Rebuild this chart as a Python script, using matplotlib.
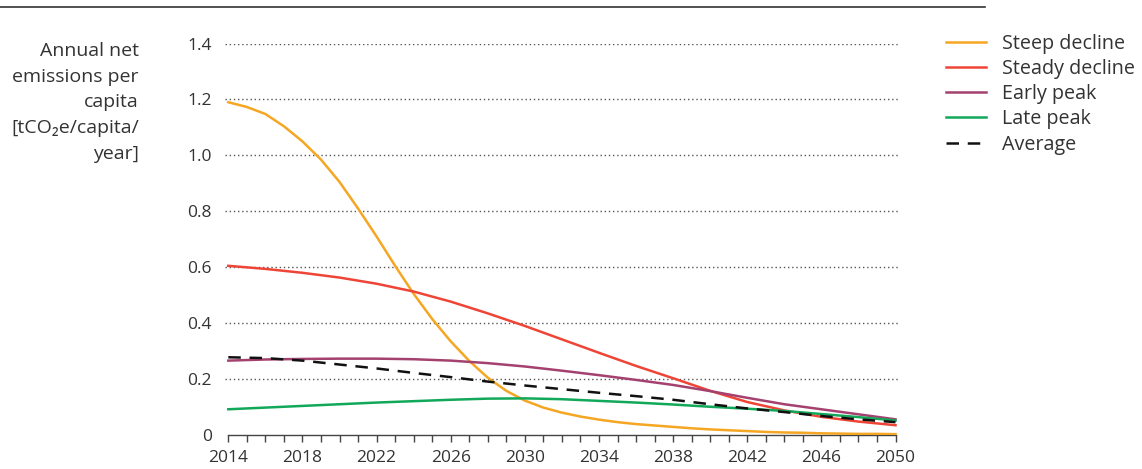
import matplotlib
matplotlib.use("Agg")
import matplotlib.pyplot as plt
from matplotlib.ticker import FixedLocator
from matplotlib.lines import Line2D

plt.rcParams['font.family'] = ['Open Sans', 'DejaVu Sans']

years2 = [2014, 2016, 2018, 2020, 2022, 2024, 2026, 2028, 2030, 2032,
          2034, 2036, 2038, 2040, 2042, 2044, 2046, 2048, 2050]
years1 = list(range(2014, 2051))

steep = [1.19, 1.173, 1.148, 1.104, 1.05, 0.985, 0.905, 0.81, 0.71, 0.605,
         0.505, 0.415, 0.335, 0.265, 0.205, 0.158, 0.123, 0.098, 0.08, 0.066,
         0.055, 0.046, 0.039, 0.034, 0.029, 0.024, 0.02, 0.017, 0.014, 0.011,
         0.009, 0.008, 0.006, 0.005, 0.004, 0.004, 0.003]
steady = [0.605, 0.594, 0.58, 0.563, 0.541, 0.513, 0.477, 0.435, 0.39, 0.342,
          0.294, 0.247, 0.203, 0.158, 0.118, 0.088, 0.065, 0.048, 0.035]
early = [0.266, 0.27, 0.272, 0.273, 0.273, 0.271, 0.266, 0.257, 0.245, 0.23,
         0.214, 0.197, 0.179, 0.157, 0.133, 0.11, 0.092, 0.074, 0.056]
late = [0.092, 0.098, 0.104, 0.11, 0.116, 0.121, 0.126, 0.13, 0.131, 0.128,
        0.122, 0.116, 0.109, 0.101, 0.094, 0.086, 0.075, 0.064, 0.052]
average = [0.278, 0.275, 0.266, 0.252, 0.238, 0.222, 0.207, 0.191, 0.177, 0.164,
           0.151, 0.139, 0.126, 0.11, 0.095, 0.082, 0.068, 0.056, 0.046]

labels = ["Steep decline", "Steady decline", "Early peak", "Late peak", "Average"]
colors = ["#F5A623", "#EE4537", "#A4416F", "#12A85A", "#111111"]
yticks = [0, 0.2, 0.4, 0.6, 0.8, 1.0, 1.2, 1.4]
ytick_labels = ["0", "0.2", "0.4", "0.6", "0.8", "1.0", "1.2", "1.4"]
xticks = [2014, 2018, 2022, 2026, 2030, 2034, 2038, 2042, 2046, 2050]

TXT = "#333333"
fig = plt.figure(figsize=(11.42, 4.69), dpi=100)
ppy = (895.5 - 228.3) / 36
x0 = 2013.8
x1 = 2050.2
left_px = 228.3 - (2014 - x0) * ppy
right_px = 895.5 + (x1 - 2050) * ppy
ax = fig.add_axes([left_px / 1142, 1 - 435.0 / 469, (right_px - left_px) / 1142, (435.0 - 43.5) / 469])

lw = 1.8
ax.plot(years1, steep, color=colors[0], lw=lw, zorder=3)
ax.plot(years2, steady, color=colors[1], lw=lw, zorder=3)
ax.plot(years2, early, color=colors[2], lw=lw, zorder=3)
ax.plot(years2, late, color=colors[3], lw=lw, zorder=3)
ax.plot(years2, average, color=colors[4], lw=1.8, ls=(0, (5, 3.5)), zorder=4)

ax.set_xlim(x0, x1)
ax.set_ylim(0, 1.4)
ax.set_yticks(yticks)
ax.set_yticklabels(ytick_labels)
ax.set_xticks(xticks)
ax.set_xticklabels([str(x) for x in xticks])
ax.xaxis.set_minor_locator(FixedLocator(years1))

for y in yticks[1:]:
    ax.axhline(y, color="#555555", lw=1.0, ls=(0, (1, 2)), zorder=1)

for s in ["top", "right", "left"]:
    ax.spines[s].set_visible(False)
ax.spines["bottom"].set_bounds(2014, 2050)
ax.spines["bottom"].set_color("#444444")
ax.spines["bottom"].set_linewidth(1.0)
ax.tick_params(axis="x", which="both", direction="out", length=5, width=1.0,
               color="#444444", labelsize=12.5, labelcolor=TXT, pad=5.5)
ax.tick_params(axis="y", length=0, labelsize=12.5, labelcolor=TXT, pad=9)

fig.text(139 / 1142, 1 - 42 / 469,
         "Annual net\nemissions per\ncapita\n[tCO\u2082e/capita/\nyear]",
         ha="right", va="top", fontsize=14, color=TXT, linespacing=1.55)

fig.add_artist(Line2D([0, 985 / 1142], [1 - 7 / 469, 1 - 7 / 469],
                      color="#333333", lw=1.2, transform=fig.transFigure))

handles = [Line2D([], [], color=colors[i], lw=lw) for i in range(4)]
handles.append(Line2D([], [], color=colors[4], lw=1.8, ls=(0, (5, 3.5))))
fig.legend(handles, labels, loc="upper left", bbox_to_anchor=(946 / 1142, 1 - 34 / 469),
           frameon=False, fontsize=14.2, labelcolor=TXT, borderpad=0, borderaxespad=0,
           handlelength=2.05, handletextpad=0.8, labelspacing=0.26)

fig.savefig("out.png", dpi=100)
